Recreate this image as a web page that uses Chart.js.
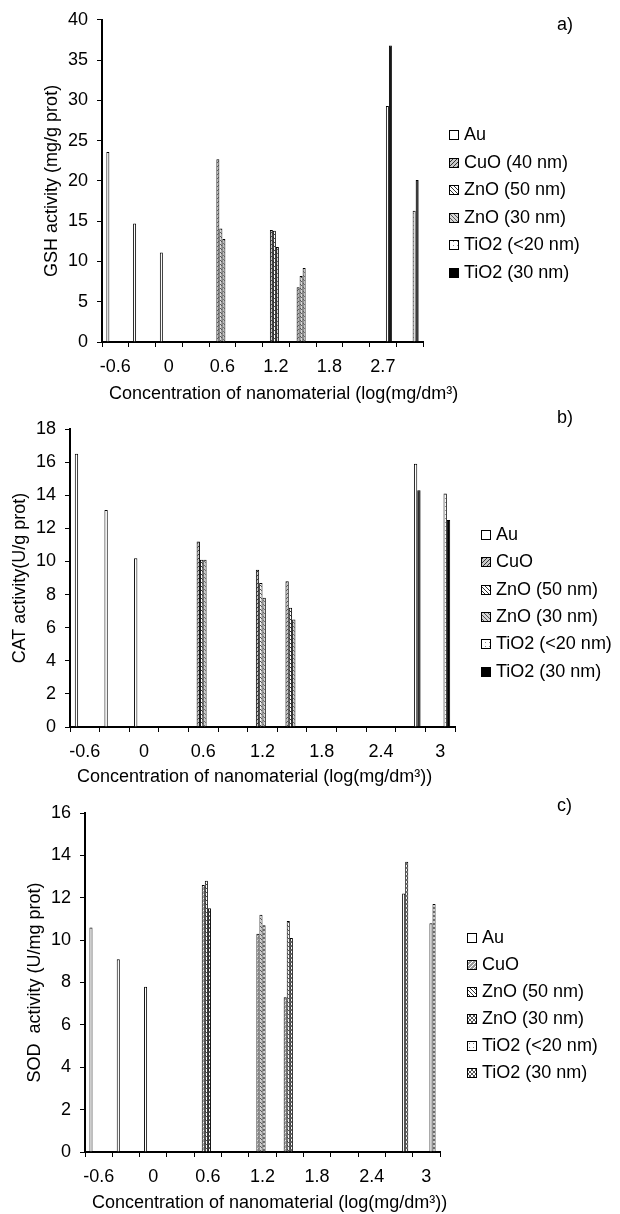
<!DOCTYPE html>
<html>
<head>
<meta charset="utf-8">
<title>GSH, CAT and SOD activity vs nanomaterial concentration</title>
<script src="https://cdn.jsdelivr.net/npm/chart.js@4.4.1/dist/chart.umd.min.js"></script>
<style>
    body { margin: 0; background: #fff; }
    .panel { position: absolute; left: 0; }
</style>
</head>
<body>
<canvas id="chartA" class="panel" width="620" height="405" style="top:0"></canvas>
<canvas id="chartB" class="panel" width="620" height="385" style="top:405px"></canvas>
<canvas id="chartC" class="panel" width="620" height="424" style="top:790px"></canvas>
<script>
// category labels (every other category is unlabelled, as in the original)
const categoriesA = ['-0.6', '', '0', '', '0.6', '', '1.2', '', '1.8', '', '2.7', ''];
const categoriesBC = ['-0.6', '', '0', '', '0.6', '', '1.2', '', '1.8', '', '2.4', '', '3'];

// a) GSH activity (mg/g prot)
const gshAu      = [23.6, 14.7, 11.1, null, null, null, null, null, null, null, null, null];
const gshCuO     = [null, null, null, null, 22.7, null, 13.9, 6.8, null, null, null, null];
const gshZnO50   = [null, null, null, null, 14.1, null, 13.8, 8.2, null, null, null, null];
const gshZnO30   = [null, null, null, null, 12.8, null, 11.8, 9.2, null, null, null, null];
const gshTiO2s   = [null, null, null, null, null, null, null, null, null, null, 29.3, 16.3];
const gshTiO2    = [null, null, null, null, null, null, null, null, null, null, 36.8, 20.1];

// b) CAT activity (U/g prot)
const catAu      = [16.5, 13.1, 10.2, null, null, null, null, null, null, null, null, null, null];
const catCuO     = [null, null, null, null, 11.2, null, 9.5, 8.8, null, null, null, null, null];
const catZnO50   = [null, null, null, null, 10.1, null, 8.7, 7.2, null, null, null, null, null];
const catZnO30   = [null, null, null, null, 10.1, null, 7.8, 6.5, null, null, null, null, null];
const catTiO2s   = [null, null, null, null, null, null, null, null, null, null, null, 15.9, 14.1];
const catTiO2    = [null, null, null, null, null, null, null, null, null, null, null, 14.3, 12.5];

// c) SOD activity (U/mg prot)
const sodAu      = [10.6, 9.1, 7.8, null, null, null, null, null, null, null, null, null, null];
const sodCuO     = [null, null, null, null, 12.6, null, 10.3, 7.3, null, null, null, null, null];
const sodZnO50   = [null, null, null, null, 12.8, null, 11.2, 10.9, null, null, null, null, null];
const sodZnO30   = [null, null, null, null, 11.5, null, 10.7, 10.1, null, null, null, null, null];
const sodTiO2s   = [null, null, null, null, null, null, null, null, null, null, null, 12.2, 10.8];
const sodTiO2    = [null, null, null, null, null, null, null, null, null, null, null, 13.7, 11.7];

const namesA = ['Au', 'CuO (40 nm)', 'ZnO (50 nm)', 'ZnO (30 nm)', 'TiO2 (<20 nm)', 'TiO2 (30 nm)'];
const namesBC = ['Au', 'CuO', 'ZnO (50 nm)', 'ZnO (30 nm)', 'TiO2 (<20 nm)', 'TiO2 (30 nm)'];

const FONT_FAMILY = '"Liberation Sans", Arial, sans-serif';
const FONT = '18px ' + FONT_FAMILY;

// small repeating tiles that stand in for the Excel pattern fills
function makePattern(kind) {
    const tile = document.createElement('canvas');
    tile.width = 4;
    tile.height = 4;
    const g = tile.getContext('2d');
    g.fillStyle = '#fff';
    g.fillRect(0, 0, 4, 4);
    const dot = (x, y, c) => { g.fillStyle = c; g.fillRect(x, y, 1, 1); };

    switch (kind) {
        case 'fwd':
            g.fillStyle = '#c8c8c8';
            g.fillRect(0, 0, 4, 4);
            [[0, 3], [1, 2], [2, 1], [3, 0]].forEach(p => dot(p[0], p[1], '#333'));
            break;
        case 'fwdDark':
            g.fillStyle = '#9a9a9a';
            g.fillRect(0, 0, 4, 4);
            [[0, 3], [1, 2], [2, 1], [3, 0]].forEach(p => dot(p[0], p[1], '#fff'));
            break;
        case 'back':
            [[0, 0], [1, 1], [2, 2], [3, 3]].forEach(p => dot(p[0], p[1], '#333'));
            break;
        case 'backGrey':
            g.fillStyle = '#d6d6d6';
            g.fillRect(0, 0, 4, 4);
            [[0, 0], [1, 1], [2, 2], [3, 3]].forEach(p => dot(p[0], p[1], '#555'));
            break;
        case 'cross':
            [[0, 0], [1, 1], [2, 2], [3, 3], [3, 0], [2, 1], [1, 2], [0, 3]].forEach(p => dot(p[0], p[1], '#555'));
            break;
        case 'dots':
            dot(1, 1, '#888');
            break;
        case 'black':
            g.fillStyle = '#000';
            g.fillRect(0, 0, 4, 4);
            break;
        default:
            break;
    }
    return g.createPattern(tile, 'repeat');
}

const fillsAB = ['white', 'fwd', 'back', 'backGrey', 'dots', 'black'].map(makePattern);
const fillsC = ['white', 'fwdDark', 'back', 'cross', 'dots', 'cross'].map(makePattern);

// legend, x-axis title and panel letter, drawn at fixed spots like the original figure
const panelText = {
    id: 'panelText',
    afterDraw(chart, args, opts) {
        const ctx = chart.ctx;
        ctx.save();
        ctx.font = FONT;
        ctx.textBaseline = 'middle';
        ctx.textAlign = 'left';

        chart.data.datasets.forEach((ds, i) => {
            const y = Math.round(opts.legendY + i * opts.legendStep);
            ctx.fillStyle = ds.backgroundColor;
            ctx.fillRect(opts.legendX, y - 5, 10, 10);
            ctx.strokeStyle = '#000';
            ctx.lineWidth = 1;
            ctx.strokeRect(opts.legendX + 0.5, y - 4.5, 9, 9);
            ctx.fillStyle = '#000';
            ctx.fillText(ds.label, opts.legendX + 15, y);
        });

        ctx.fillStyle = '#000';
        ctx.fillText(opts.xTitle, opts.xTitleX, opts.xTitleY);
        ctx.fillText(opts.tag, opts.tagX, opts.tagY);
        ctx.restore();
    }
};

function buildChart(canvasId, setup) {
    const datasets = setup.series.map((values, i) => ({
        label: setup.names[i],
        data: values,
        backgroundColor: setup.fills[i],
        borderColor: '#000',
        borderWidth: 1,
        categoryPercentage: 0.675,
        barPercentage: 1
    }));

    const axisGrid = {
        display: true,
        drawOnChartArea: false,
        drawTicks: true,
        tickLength: 5,
        color: '#000',
        lineWidth: 1
    };

    return new Chart(document.getElementById(canvasId), {
        type: 'bar',
        data: { labels: setup.labels, datasets },
        options: {
            responsive: false,
            animation: false,
            devicePixelRatio: 1,
            layout: { padding: setup.padding },
            plugins: {
                legend: { display: false },
                tooltip: { enabled: false },
                panelText: setup.text
            },
            scales: {
                x: {
                    grid: { ...axisGrid, offset: true },
                    border: { display: true, color: '#000', width: 2 },
                    ticks: {
                        autoSkip: false,
                        maxRotation: 0,
                        padding: 9,
                        color: '#000',
                        font: { family: FONT_FAMILY, size: 18 }
                    },
                    afterFit: scale => { scale.height = setup.xHeight; }
                },
                y: {
                    min: 0,
                    max: setup.yMax,
                    grid: axisGrid,
                    border: { display: true, color: '#000', width: 2 },
                    ticks: {
                        stepSize: setup.yStep,
                        padding: 9,
                        color: '#000',
                        font: { family: FONT_FAMILY, size: 18 }
                    },
                    title: {
                        display: true,
                        text: setup.yTitle,
                        color: '#000',
                        padding: { top: 0, bottom: 0 },
                        font: { family: FONT_FAMILY, size: 18 }
                    },
                    afterFit: scale => { scale.width = 61; }
                }
            }
        },
        plugins: [panelText]
    });
}

buildChart('chartA', {
    labels: categoriesA,
    names: namesA,
    series: [gshAu, gshCuO, gshZnO50, gshZnO30, gshTiO2s, gshTiO2],
    fills: fillsAB,
    yMax: 40,
    yStep: 5,
    yTitle: 'GSH activity (mg/g prot)',
    padding: { left: 41, right: 197, top: 13, bottom: 0 },
    xHeight: 63,
    text: {
        legendX: 449, legendY: 135, legendStep: 27.5,
        xTitle: 'Concentration of nanomaterial (log(mg/dm³)', xTitleX: 109, xTitleY: 394,
        tag: 'a)', tagX: 557, tagY: 25
    }
});

buildChart('chartB', {
    labels: categoriesBC,
    names: namesBC,
    series: [catAu, catCuO, catZnO50, catZnO30, catTiO2s, catTiO2],
    fills: fillsAB,
    yMax: 18,
    yStep: 2,
    yTitle: 'CAT activity(U/g prot)',
    padding: { left: 9, right: 165, top: 24, bottom: 0 },
    xHeight: 63,
    text: {
        legendX: 481, legendY: 130, legendStep: 27.3,
        xTitle: 'Concentration of nanomaterial (log(mg/dm³))', xTitleX: 77, xTitleY: 372,
        tag: 'b)', tagX: 557, tagY: 13
    }
});

buildChart('chartC', {
    labels: categoriesBC,
    names: namesBC,
    series: [sodAu, sodCuO, sodZnO50, sodZnO30, sodTiO2s, sodTiO2],
    fills: fillsC,
    yMax: 16,
    yStep: 2,
    yTitle: 'SOD  activity (U/mg prot)',
    padding: { left: 24, right: 180, top: 23, bottom: 0 },
    xHeight: 62,
    text: {
        legendX: 467, legendY: 148, legendStep: 27,
        xTitle: 'Concentration of nanomaterial (log(mg/dm³))', xTitleX: 92, xTitleY: 413,
        tag: 'c)', tagX: 557, tagY: 16
    }
});
</script>
</body>
</html>
